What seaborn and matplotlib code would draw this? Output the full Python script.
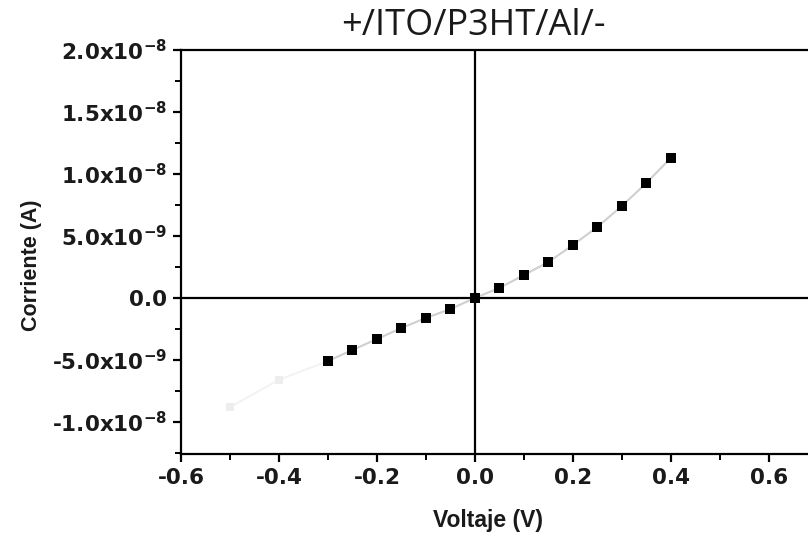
import matplotlib
matplotlib.use("Agg")
import matplotlib.pyplot as plt
import seaborn as sns
import numpy as np
import pandas as pd
from matplotlib.ticker import MultipleLocator, FixedLocator

# ---- data ----
voltage = [-0.30, -0.25, -0.20, -0.15, -0.10, -0.05, 0.00, 0.05, 0.10, 0.15,
           0.20, 0.25, 0.30, 0.35, 0.40]
current = [-5.08e-9, -4.19e-9, -3.31e-9, -2.42e-9, -1.61e-9, -0.89e-9, 0.0,
           0.81e-9, 1.85e-9, 2.90e-9, 4.27e-9, 5.73e-9, 7.42e-9, 9.27e-9, 11.3e-9]
# faint (ghost) points visible in the reference
ghost_voltage = [-0.50, -0.40, -0.30]
ghost_current = [-8.8e-9, -6.6e-9, -5.08e-9]

x_ticks = [-0.6, -0.4, -0.2, 0.0, 0.2, 0.4, 0.6]
x_ticklabels = ["-0.6", "-0.4", "-0.2", "0.0", "0.2", "0.4", "0.6"]
y_ticks = [-1.0e-8, -5.0e-9, 0.0, 5.0e-9, 1.0e-8, 1.5e-8, 2.0e-8]
y_ticklabels = [r"-1.0x10$^{-8}$", r"-5.0x10$^{-9}$", "0.0", r"5.0x10$^{-9}$",
                r"1.0x10$^{-8}$", r"1.5x10$^{-8}$", r"2.0x10$^{-8}$"]
title = "+/ITO/P3HT/Al/-"
xlabel = "Voltaje (V)"
ylabel = "Corriente (A)"

df = pd.DataFrame({"V": voltage, "I": current})
ghost = pd.DataFrame({"V": ghost_voltage, "I": ghost_current})

sns.set_theme(style="ticks")
plt.rcParams["font.family"] = ["DejaVu Sans"]
plt.rcParams["mathtext.fontset"] = "dejavusans"
plt.rcParams["mathtext.default"] = "bf"

fig = plt.figure(figsize=(8.08, 5.34), dpi=100)
ax = fig.add_axes([181 / 808, 1 - 454 / 534, 1 - 181 / 808, (454 - 50) / 534])
ax.set_facecolor("white")

# ghost line and points
sns.lineplot(data=ghost, x="V", y="I", ax=ax, color="#f3f3f3", linewidth=1.5,
             zorder=1, sort=False)
sns.scatterplot(data=ghost.iloc[:2], x="V", y="I", ax=ax, color="#ededed",
                marker="s", s=30, linewidth=0, zorder=1)

# zero lines
ax.axhline(0, color="black", linewidth=1.6, zorder=2)
ax.axvline(0, color="black", linewidth=1.6, zorder=2)

# main data
sns.lineplot(data=df, x="V", y="I", ax=ax, color="#cfcfcf", linewidth=1.5,
             zorder=3, sort=False)
sns.scatterplot(data=df, x="V", y="I", ax=ax, color="black", marker="s",
                s=50, linewidth=0, zorder=4)

ax.set_xlim(-0.6, 0.68)
ax.set_ylim(-1.258e-8, 2.0e-8)

ax.xaxis.set_major_locator(FixedLocator(x_ticks))
ax.set_xticklabels(x_ticklabels)
ax.xaxis.set_minor_locator(MultipleLocator(0.1))
ax.yaxis.set_major_locator(FixedLocator(y_ticks))
ax.set_yticklabels(y_ticklabels)
ax.yaxis.set_minor_locator(MultipleLocator(2.5e-9))

for lab in ax.get_xticklabels() + ax.get_yticklabels():
    lab.set_fontfamily("DejaVu Sans")
    lab.set_fontweight("bold")
    lab.set_fontsize(15.5)
    lab.set_color("#1a1a1a")

ax.tick_params(axis="both", which="major", direction="out", length=6,
               width=1.6, color="black", pad=4)
ax.tick_params(axis="both", which="minor", direction="out", length=4,
               width=1.4, color="black")
ax.tick_params(axis="x", which="both", top=False)
ax.tick_params(axis="y", which="both", right=False)

for side in ["left", "bottom", "top"]:
    ax.spines[side].set_visible(True)
    ax.spines[side].set_color("black")
    ax.spines[side].set_linewidth(1.6)
ax.spines["right"].set_visible(False)

ax.set_xlabel(xlabel, fontfamily="Liberation Sans", fontweight="bold",
              fontsize=16.5, color="#1a1a1a")
ax.set_ylabel(ylabel, fontfamily="Liberation Sans", fontweight="bold",
              fontsize=15.5, color="#1a1a1a")
ax.xaxis.set_label_coords((488 - 181) / 627, -(527 - 454) / 404)
ax.xaxis.label.set_va("baseline")
ax.yaxis.set_label_coords((42 - 181) / 627, (454 - 265) / 404)

fig.text(473.5 / 808, 1 - 35 / 534, title, ha="center", va="baseline",
         fontfamily="Open Sans", fontsize=26, color="#1a1a1a")

fig.savefig("out.png", dpi=100, facecolor="white")
